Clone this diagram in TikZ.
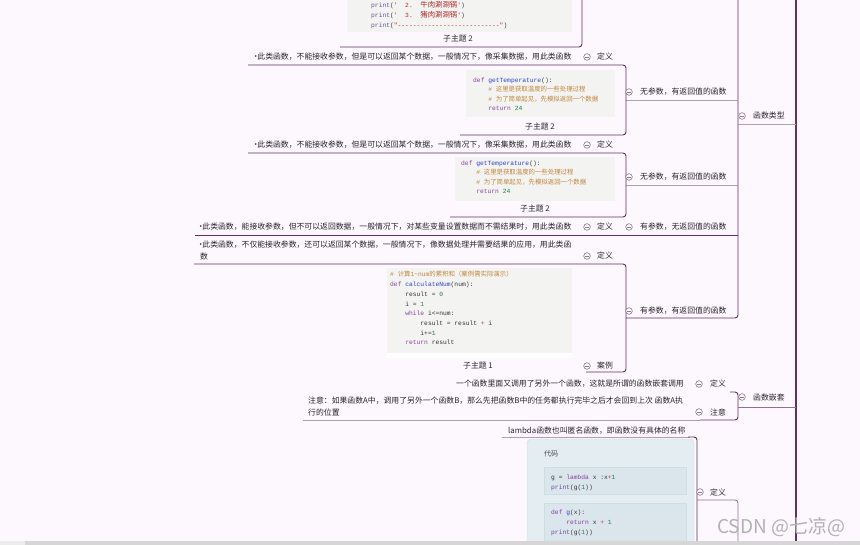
\documentclass[tikz,border=0pt]{standalone}
\usepackage{fontspec}
\setmainfont{Noto Sans CJK SC}
\newfontfamily\cjk{Noto Sans CJK SC}
\setmonofont{Liberation Mono}
\definecolor{bgc}{HTML}{FCF8FD}
\definecolor{tc}{HTML}{2E2230}
\definecolor{lnd}{HTML}{5E3161}
\definecolor{lnl}{HTML}{B29CB6}
\definecolor{lnm}{HTML}{8E7092}
\definecolor{knobc}{HTML}{8A7A8E}
\definecolor{cbox}{HTML}{F3F4F1}
\definecolor{ckw}{HTML}{8A3FA0}
\definecolor{cfn}{HTML}{2F3FD0}
\definecolor{ccm}{HTML}{C0853F}
\definecolor{cnm}{HTML}{1E7A4E}
\definecolor{cst}{HTML}{B02A2A}
\definecolor{cop}{HTML}{C83040}
\definecolor{cpr}{HTML}{6A4AA0}
\definecolor{cplain}{HTML}{333333}
\definecolor{cardf}{HTML}{E3EDF2}
\definecolor{cardd}{HTML}{C9D9E1}
\definecolor{innf}{HTML}{DAE6EC}
\definecolor{innd}{HTML}{CEDCE3}
\newcommand\qkw[1]{\textcolor{ckw}{#1}}
\newcommand\qfn[1]{\textcolor{cfn}{#1}}
\newcommand\qcm[1]{\textcolor{ccm}{#1}}
\newcommand\qnm[1]{\textcolor{cnm}{#1}}
\newcommand\qst[1]{\textcolor{cst}{#1}}
\newcommand\qop[1]{\textcolor{cop}{#1}}
\newcommand\qpr[1]{\textcolor{cpr}{#1}}
\newcommand\qind{\hspace*{15.12pt}}
\newcommand\qdot{\makebox[3.2pt][c]{•}}
\newcommand\zhc{\cjk\fontsize{6.4}{9.6}\selectfont}
\newcommand\zhcs{\cjk\fontsize{7.4}{9.6}\selectfont}
\newcommand\codeln[4]{\node[code] (#1) at (#2,#3) {#4};}
\tikzset{
  txt/.style={anchor=base west, inner sep=0, text=tc, font=\cjk\fontsize{7.85}{10}\selectfont},
  code/.style={anchor=base west, inner sep=0, text=cplain, font=\ttfamily\fontsize{6.3}{9.6}\selectfont},
  knob/.style={circle, draw=knobc, fill=bgc, line width=0.6pt, minimum size=6.6pt, inner sep=0pt,
    path picture={\draw[knobc, line width=0.5pt] ([xshift=-1.7pt]path picture bounding box.center) -- ([xshift=1.7pt]path picture bounding box.center);}},
  dk/.style={draw=lnd, line width=0.9pt, rounded corners=3pt},
  lt/.style={draw=lnl, line width=0.8pt, rounded corners=3pt},
  md/.style={draw=lnm, line width=0.8pt, rounded corners=3pt},
}
\begin{document}
\begin{tikzpicture}[x=1pt,y=-1pt]
\useasboundingbox (0,0) rectangle (860,545);
\clip (0,0) rectangle (860,545);
\fill[bgc] (0,0) rectangle (860,545);

% ---------- main structure lines ----------
\draw[draw=lnd, line width=1.3pt] (796,-5) -- (796,550);
\draw[dk] (626,318) -- (738,318) -- (738,-5);
\draw[lt] (738,124) -- (796,124);
\draw[lt] (626,100) -- (738,100);
\draw[lt] (626,185) -- (738,185);
\draw[dk] (195,235) -- (738,235);

% block A (top)
\fill[cbox] (347,-2) rectangle (572,32);
\draw[dk] (582,-5) -- (582,47) -- (340,47);
% block B
\fill[cbox] (466,70) rectangle (615,117);
\draw[dk] (248,65) -- (626,65) -- (626,135) -- (460,135);
% block C
\fill[cbox] (455,157) rectangle (615,201);
\draw[dk] (248,153) -- (626,153) -- (626,217) -- (450,217);
% block E
\fill[cbox] (387,268) rectangle (572,353);
\fill[white] (387,353) rectangle (572,358);
\draw[dk] (194,264) -- (626,264) -- (626,372) -- (586,372);

% function nesting
\draw[dk] (730,392) -- (738,392) -- (738,420) -- (700,420);
\draw[lt] (700,420) -- (303,420);
\draw[md] (738,407) -- (796,407);

% lambda
\draw[lt] (502,437) -- (690,437);
\draw[dk] (688,437) -- (697,437) -- (697,550);
\draw[md] (697,500) -- (738,500) -- (738,550);
\draw[fill=cardf, draw=cardd, rounded corners=4pt] (527,439) rectangle (694,560);
\draw[fill=innf, draw=innd] (544,467) rectangle (686,494);
\draw[fill=innf, draw=innd] (544,503) rectangle (686,560);

% ---------- block A code ----------
\codeln{a1}{371}{8}{\qpr{print}(\qst{'\ \ 2.\ \ {\zhcs 牛肉涮涮锅}'})}
\codeln{a2}{371}{18}{\qpr{print}(\qst{'\ \ 3.\ \ {\zhcs 猪肉涮涮锅}'})}
\codeln{a3}{371}{28}{\qpr{print}(\qst{"---------------------------"})}
\node[txt, anchor=base] (sa) at (458,42) {子主题 2};

% ---------- block B ----------
\node[txt] (d1) at (254,60) {\qdot 此类函数，不能接收参数，但是可以返回某个数据，一般情况下，像采集数据，用此类函数};
\node[knob] (k1) at (587,57) {};
\node[txt] (l1) at (597,60) {定义};
\codeln{b1}{473}{82.5}{\qkw{def} \qfn{getTemperature}():}
\codeln{b2}{473}{92}{\qind\qcm{\# {\zhc 这里是获取温度的一些处理过程}}}
\codeln{b3}{473}{101.5}{\qind\qcm{\# {\zhc 为了简单起见，先模拟返回一个数据}}}
\codeln{b4}{473}{111}{\qind\qkw{return} \qnm{24}}
\node[txt, anchor=base] (sb) at (540,130) {子主题 2};
\node[knob] (kp1) at (629,92) {};
\node[txt] (p1) at (640,95) {无参数，有返回值的函数};

% ---------- block C ----------
\node[txt] (d2) at (254,148) {\qdot 此类函数，不能接收参数，但是可以返回某个数据，一般情况下，像采集数据，用此类函数};
\node[knob] (k2) at (587,145) {};
\node[txt] (l2) at (597,148) {定义};
\codeln{c1}{461}{165.5}{\qkw{def} \qfn{getTemperature}():}
\codeln{c2}{461}{175}{\qind\qcm{\# {\zhc 这里是获取温度的一些处理过程}}}
\codeln{c3}{461}{184.5}{\qind\qcm{\# {\zhc 为了简单起见，先模拟返回一个数据}}}
\codeln{c4}{461}{194}{\qind\qkw{return} \qnm{24}}
\node[txt, anchor=base] (sc) at (535,212) {子主题 2};
\node[knob] (kp2) at (629,177) {};
\node[txt] (p2) at (640,180) {无参数，有返回值的函数};

% ---------- block D ----------
\node[txt] (d3) at (199,230) {\qdot 此类函数，能接收参数，但不可以返回数据，一般情况下，对某些变量设置数据而不需结果时，用此类函数};
\node[knob] (k3) at (587,227) {};
\node[txt] (l3) at (597,230) {定义};
\node[knob] (kp3) at (629,227) {};
\node[txt] (p3) at (640,230) {有参数，无返回值的函数};

% ---------- block E ----------
\node[txt] (d4a) at (199,248) {\qdot 此类函数，不仅能接收参数，还可以返回某个数据，一般情况下，像数据处理并需要结果的应用，用此类函};
\node[txt] (d4b) at (200,260) {数};
\node[knob] (k4) at (587,256) {};
\node[txt] (l4) at (597,259) {定义};
\codeln{e1}{390}{277}{\qcm{\# {\zhc 计算}1\textasciitilde num{\zhc 的累积和（案例需实际演示）}}}
\codeln{e2}{390}{287}{\qkw{def} \qfn{calculateNum}(num):}
\codeln{e3}{390}{297}{\qind result = \qnm{0}}
\codeln{e4}{390}{306.5}{\qind i = \qnm{1}}
\codeln{e5}{390}{316}{\qind\qkw{while} i<=num:}
\codeln{e6}{390}{326}{\qind\qind result = result \qop{+} i}
\codeln{e7}{390}{335.5}{\qind\qind i+=\qnm{1}}
\codeln{e8}{390}{345}{\qind\qkw{return} result}
\node[txt, anchor=base] (se) at (478,369) {子主题 1};
\node[knob] (k5) at (587,366) {};
\node[txt] (l5) at (597,369) {案例};
\node[knob] (kp4) at (629,311) {};
\node[txt] (p4) at (640,314) {有参数，有返回值的函数};

% ---------- function type ----------
\node[knob] (kt) at (742,116) {};
\node[txt] (t1) at (753,119) {函数类型};

% ---------- function nesting ----------
\node[txt, anchor=base east] (n1) at (684,387) {一个函数里面又调用了另外一个函数，这就是所谓的函数嵌套调用};
\node[knob] (kn1) at (699,384) {};
\node[txt] (ln1) at (710,387) {定义};
\node[txt] (n2a) at (308,404) {注意：如果函数A中，调用了另外一个函数B，那么先把函数B中的任务都执行完毕之后才会回到上次 函数A执};
\node[txt] (n2b) at (308,416) {行的位置};
\node[knob] (kn2) at (699,412) {};
\node[txt] (ln2) at (710,416) {注意};
\node[knob] (kn) at (742,397) {};
\node[txt] (t2) at (753,401) {函数嵌套};

% ---------- lambda ----------
\node[txt] (la) at (508,434) {lambda函数也叫匿名函数，即函数没有具体的名称};
\node[txt, font=\cjk\fontsize{7}{9}\selectfont, text=black!70] (dm) at (544,456) {代码};
\codeln{g1}{551}{479}{g = \qkw{lambda} x :x\qop{+}\qnm{1}}
\codeln{g2}{551}{489}{\qpr{print}(g(\qnm{1}))}
\codeln{g3}{551}{514}{\qkw{def} \qfn{g}(x):}
\codeln{g4}{551}{524}{\qind\qkw{return} x \qop{+} \qnm{1}}
\codeln{g5}{551}{534}{\qpr{print}(g(\qnm{1}))}
\node[knob] (kl) at (700,492) {};
\node[txt] (ll) at (710,495) {定义};

% ---------- watermark & scrollbar ----------
\node[anchor=base west, inner sep=0, font=\cjk\fontsize{19}{20}\selectfont, text=gray!60] (wm) at (717,533) {CSDN @七凉@};
\fill[gray!15] (0,541) rectangle (25,545);
\fill[gray!32] (25,541) rectangle (860,545);
\end{tikzpicture}
\end{document}
